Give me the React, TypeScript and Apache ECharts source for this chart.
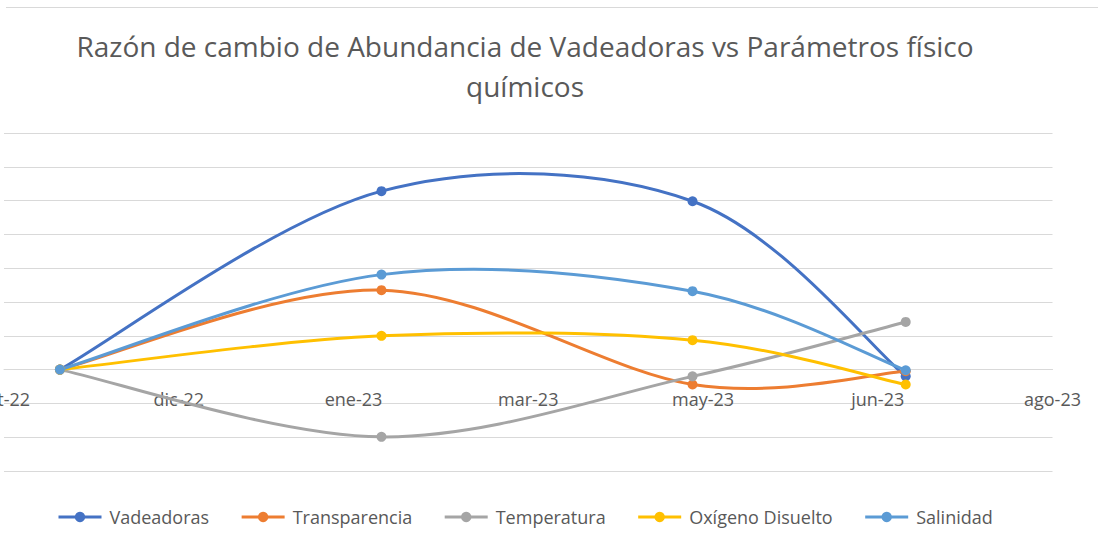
import React, { useEffect, useRef } from "react";
import * as echarts from "echarts";

const titleText =
  "Razón de cambio de Abundancia de Vadeadoras vs Parámetros físico\nquímicos";

// Axis start date and tick step (days)
const axisStart = "2022-10-17";
const tickStepDays = 50;
const tickLabels = ["oct-22", "dic-22", "ene-23", "mar-23", "may-23", "jun-23", "ago-23"];

// Y axis range (gridline units)
const yMin = -3;
const yMax = 7;
const yStep = 1;

// Sampling dates
const sampleDates = ["2022-11-02", "2023-02-02", "2023-05-02", "2023-07-02"];

// Series values (rate of change)
const seriesNames = ["Vadeadoras", "Transparencia", "Temperatura", "Oxígeno Disuelto", "Salinidad"];
const vadeadoras = [0, 5.28, 4.98, -0.2];
const transparencia = [0, 2.35, -0.44, -0.05];
const temperatura = [0, -1.99, -0.2, 1.41];
const oxigeno = [0, 1.0, 0.87, -0.44];
const salinidad = [0, 2.81, 2.32, -0.02];
const seriesColors = ["#4472C4", "#ED7D31", "#A5A5A5", "#FFC000", "#5B9BD5"];

const dayMs = 86400000;
const toDays = (d: string) =>
  (Date.parse(d + "T00:00:00Z") - Date.parse(axisStart + "T00:00:00Z")) / dayMs;

export default function App() {
  const ref = useRef<HTMLDivElement>(null);
  useEffect(() => {
    if (!ref.current) return;
    const chart = echarts.init(ref.current, null, { renderer: "svg" });
    const xs = sampleDates.map(toDays);
    const allValues = [vadeadoras, transparencia, temperatura, oxigeno, salinidad];
    const font = "'Open Sans', sans-serif";

    const gridTop = 133;
    const gridBottom = 74;
    const gridHeight = 545 - gridTop - gridBottom;
    const zeroOffset = (gridHeight * (0 - yMin)) / (yMax - yMin);

    // Excel-like smoothed curves (Catmull-Rom, 1/6 tangents) through data points
    const curveSeries = seriesNames.map((name, si) => {
      const pts = xs.map((x, j) => [x, allValues[si][j]]);
      return {
        name,
        type: "custom",
        z: 2,
        silent: true,
        clip: false,
        encode: { x: 0, y: 1 },
        data: pts,
        renderItem: (params: any, api: any) => {
          const i = params.dataIndex;
          const n = pts.length;
          if (i >= n - 1) return null;
          const c = (k: number) => api.coord(pts[Math.max(0, Math.min(n - 1, k))]);
          const p0 = c(i - 1);
          const p1 = c(i);
          const p2 = c(i + 1);
          const p3 = c(i + 2);
          return {
            type: "bezierCurve",
            shape: {
              x1: p1[0],
              y1: p1[1],
              x2: p2[0],
              y2: p2[1],
              cpx1: p1[0] + (p2[0] - p0[0]) / 6,
              cpy1: p1[1] + (p2[1] - p0[1]) / 6,
              cpx2: p2[0] - (p3[0] - p1[0]) / 6,
              cpy2: p2[1] - (p3[1] - p1[1]) / 6,
            },
            style: { stroke: seriesColors[si], lineWidth: 3, fill: null, lineCap: "round" },
          };
        },
      };
    });

    const markerSeries = seriesNames.map((name, i) => ({
      name,
      type: "line",
      z: 3,
      symbol: "circle",
      symbolSize: 10,
      showSymbol: true,
      data: xs.map((x, j) => [x, allValues[i][j]]),
      lineStyle: { color: seriesColors[i], width: 3, opacity: 0 },
      itemStyle: { color: seriesColors[i], borderWidth: 0 },
      emphasis: { disabled: true },
    }));

    const option: any = {
      animation: false,
      backgroundColor: "#ffffff",
      title: {
        text: titleText,
        left: 525,
        top: 26,
        textAlign: "center",
        padding: 0,
        textStyle: {
          fontFamily: font,
          fontSize: 28,
          fontWeight: "normal",
          color: "#595959",
          lineHeight: 40,
        },
      },
      graphic: [
        {
          type: "line",
          shape: { x1: 6, y1: 7.5, x2: 1098, y2: 7.5 },
          style: { stroke: "#D9D9D9", lineWidth: 1 },
          silent: true,
        },
      ],
      grid: {
        left: 4,
        right: 45.5,
        top: gridTop,
        bottom: gridBottom,
        containLabel: false,
        outerBoundsMode: "none",
      },
      legend: {
        data: seriesNames,
        left: 57,
        top: 508,
        padding: 0,
        itemWidth: 43,
        itemHeight: 13,
        itemGap: 31,
        lineStyle: { width: 3, opacity: 1 },
        textStyle: {
          fontFamily: font,
          fontSize: 18,
          color: "#595959",
          padding: [0, 0, 0, 3],
        },
      },
      xAxis: {
        type: "value",
        min: 0,
        max: tickStepDays * (tickLabels.length - 1),
        interval: tickStepDays,
        offset: -zeroOffset,
        axisLine: { show: true, onZero: false, lineStyle: { color: "#D9D9D9", width: 1 } },
        axisTick: { show: false },
        splitLine: { show: false },
        axisLabel: {
          margin: 20,
          fontFamily: font,
          fontSize: 18,
          color: "#595959",
          showMinLabel: true,
          showMaxLabel: true,
          formatter: (v: number) => tickLabels[Math.round(v / tickStepDays)] ?? "",
        },
      },
      yAxis: {
        type: "value",
        min: yMin,
        max: yMax,
        interval: yStep,
        axisLine: { show: false },
        axisTick: { show: false },
        axisLabel: { show: false },
        splitLine: { show: true, lineStyle: { color: "#D9D9D9", width: 1 } },
      },
      series: [...markerSeries, ...curveSeries],
    };
    chart.setOption(option);
    return () => chart.dispose();
  }, []);
  return (
    <div
      ref={ref}
      style={{ position: "fixed", left: 0, top: 0, width: 1098, height: 545, background: "#fff" }}
    />
  );
}
